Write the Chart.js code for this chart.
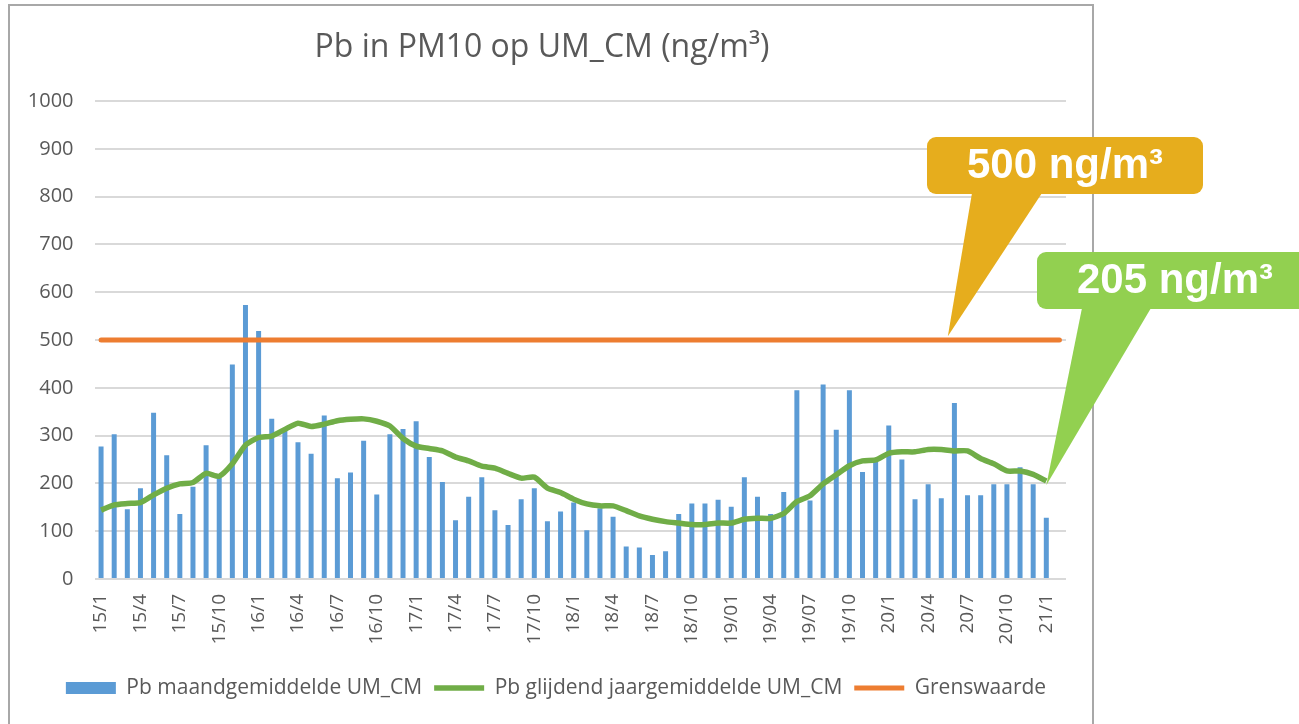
<!DOCTYPE html>
<html>
<head>
<meta charset="utf-8">
<title>Pb in PM10 op UM_CM</title>
<script src="https://cdn.jsdelivr.net/npm/chart.js@4.4.1/dist/chart.umd.min.js"></script>
<style>
  html, body { margin: 0; padding: 0; background: #fff; }
  .wrap { position: relative; width: 1299px; height: 724px; overflow: hidden; }
  .frame { position: absolute; left: 8px; top: 4px; width: 1082px; height: 800px; border: 2px solid #a8a8a8; }
  #chart { position: absolute; left: 0; top: 0; }
</style>
</head>
<body>
<div class="wrap">
  <div class="frame"></div>
  <canvas id="chart" width="1299" height="724"></canvas>
</div>
<script>
// months jan 2015 .. feb 2021 (last month has no measurement yet)
const months = [
  '15/1','15/2','15/3','15/4','15/5','15/6','15/7','15/8','15/9','15/10','15/11','15/12',
  '16/1','16/2','16/3','16/4','16/5','16/6','16/7','16/8','16/9','16/10','16/11','16/12',
  '17/1','17/2','17/3','17/4','17/5','17/6','17/7','17/8','17/9','17/10','17/11','17/12',
  '18/1','18/2','18/3','18/4','18/5','18/6','18/7','18/8','18/9','18/10','18/11','18/12',
  '19/01','19/02','19/03','19/04','19/05','19/06','19/07','19/08','19/09','19/10','19/11','19/12',
  '20/1','20/2','20/3','20/4','20/5','20/6','20/7','20/8','20/9','20/10','20/11','20/12',
  '21/1','21/2'
];

const maandgemiddelde = [
  277, 303, 146, 190, 348, 259, 136, 193, 280, 213, 449, 573,
  519, 335, 310, 286, 262, 342, 211, 223, 289, 177, 303, 314,
  330, 255, 203, 123, 172, 213, 144, 113, 167, 190, 121, 141,
  160, 102, 148, 130, 68, 66, 50, 58, 136, 158, 158, 166,
  151, 213, 172, 136, 182, 395, 164, 407, 312, 395, 224, 245,
  321, 250, 167, 198, 169, 368, 175, 175, 198, 198, 234, 198,
  128
];

const jaargemiddelde = [
  144, 155, 158, 160, 176, 190, 199, 202, 221, 215, 241, 280,
  296, 299, 313, 326, 319, 324, 331, 334, 335, 330, 320, 294,
  278, 273, 268, 255, 247, 236, 232, 221, 211, 213, 190, 181,
  167, 157, 153, 153, 143, 132, 125, 120, 117, 114, 114, 117,
  117, 125, 127, 127, 137, 162, 174, 199, 218, 237, 247, 249,
  263, 266, 266, 271, 271, 268, 268, 252, 241, 226, 226, 219,
  205
];

const grenswaarde = [
  500, 500, 500, 500, 500, 500, 500, 500, 500, 500, 500, 500,
  500, 500, 500, 500, 500, 500, 500, 500, 500, 500, 500, 500,
  500, 500, 500, 500, 500, 500, 500, 500, 500, 500, 500, 500,
  500, 500, 500, 500, 500, 500, 500, 500, 500, 500, 500, 500,
  500, 500, 500, 500, 500, 500, 500, 500, 500, 500, 500, 500,
  500, 500, 500, 500, 500, 500, 500, 500, 500, 500, 500, 500,
  500, 500
];

const yTicks = [0, 100, 200, 300, 400, 500, 600, 700, 800, 900, 1000];

// speech bubbles: the tip points at a spot on the chart (category index, value)
const callouts = [
  { text: '500 ng/m³', color: '#E6AD1D', at: 64.5, value: 508,
    box: { x: 927, y: 137, w: 276, h: 57 }, base: [972, 1042] },
  { text: '205 ng/m³', color: '#92D050', at: 72, value: 196,
    box: { x: 1037, y: 252, w: 276, h: 57 }, base: [1082, 1151] }
];

function roundedBox(ctx, x, y, w, h, r) {
  ctx.beginPath();
  ctx.moveTo(x + r, y);
  ctx.arcTo(x + w, y, x + w, y + h, r);
  ctx.arcTo(x + w, y + h, x, y + h, r);
  ctx.arcTo(x, y + h, x, y, r);
  ctx.arcTo(x, y, x + w, y, r);
  ctx.closePath();
}

const calloutPlugin = {
  id: 'callouts',
  afterLayout(chart) {
    // excel centres the legend a bit more to the right than the title
    chart.legend.left += 14;
    chart.legend.right += 14;
  },
  afterDraw(chart) {
    const ctx = chart.ctx;
    const xs = chart.scales.x;
    const ys = chart.scales.y;
    callouts.forEach(c => {
      const tipX = xs.getPixelForValue(c.at);
      const tipY = ys.getPixelForValue(c.value);
      const b = c.box;
      ctx.save();
      ctx.fillStyle = c.color;
      roundedBox(ctx, b.x, b.y, b.w, b.h, 9);
      ctx.fill();
      ctx.beginPath();
      ctx.moveTo(c.base[0], b.y + b.h - 1);
      ctx.lineTo(tipX, tipY);
      ctx.lineTo(c.base[1], b.y + b.h - 1);
      ctx.closePath();
      ctx.fill();
      ctx.fillStyle = '#ffffff';
      ctx.font = 'bold 42px "Liberation Sans", Arial, sans-serif';
      ctx.textAlign = 'center';
      ctx.textBaseline = 'middle';
      ctx.fillText(c.text, b.x + b.w / 2, b.y + b.h / 2 + 1);
      ctx.restore();
    });
  }
};

const textColor = '#595959';
const font = '"Open Sans", sans-serif';

new Chart(document.getElementById('chart'), {
  type: 'bar',
  data: {
    labels: months,
    datasets: [
      {
        label: 'Pb maandgemiddelde UM_CM',
        data: maandgemiddelde,
        backgroundColor: '#5B9BD5',
        barPercentage: 0.38,
        categoryPercentage: 1,
        pointStyle: 'rect',
        order: 2
      },
      {
        type: 'line',
        label: 'Pb glijdend jaargemiddelde UM_CM',
        data: jaargemiddelde,
        borderColor: '#70AD47',
        backgroundColor: '#70AD47',
        borderWidth: 5.5,
        borderJoinStyle: 'round',
        tension: 0.2,
        pointRadius: 0,
        pointHoverRadius: 0,
        pointStyle: 'line',
        order: 1
      },
      {
        type: 'line',
        label: 'Grenswaarde',
        data: grenswaarde,
        borderColor: '#ED7D31',
        backgroundColor: '#ED7D31',
        borderWidth: 5,
        borderCapStyle: 'round',
        pointRadius: 0,
        pointHoverRadius: 0,
        pointStyle: 'line',
        order: 1
      }
    ]
  },
  options: {
    responsive: false,
    animation: false,
    devicePixelRatio: 1,
    layout: { padding: { left: 18, right: 233, top: 0, bottom: 15.5 } },
    scales: {
      x: {
        grid: { display: false, drawTicks: false },
        border: { display: false },
        ticks: {
          autoSkip: false,
          minRotation: 90,
          maxRotation: 90,
          padding: 15,
          color: textColor,
          font: { family: font, size: 19 },
          callback: function(value, index) {
            return index % 3 === 0 ? this.getLabelForValue(value) : '';
          }
        },
        afterFit(scale) { scale.height = 86.5; }
      },
      y: {
        min: 0,
        max: 1000,
        afterBuildTicks(scale) { scale.ticks = yTicks.map(v => ({ value: v })); },
        grid: { color: '#d9d9d9', lineWidth: 2, drawTicks: false },
        border: { display: false },
        ticks: {
          padding: 21,
          color: textColor,
          font: { family: font, size: 20 },
          callback: (value) => String(value)
        },
        afterFit(scale) { scale.width = 76.5; }
      }
    },
    plugins: {
      title: {
        display: true,
        text: 'Pb in PM10 op UM_CM (ng/m³)',
        color: textColor,
        font: { family: font, size: 32, weight: 'normal' },
        padding: { top: 29, bottom: 33.6 }
      },
      legend: {
        position: 'bottom',
        labels: {
          color: textColor,
          font: { family: font, size: 21 },
          usePointStyle: true,
          pointStyleWidth: 50,
          boxHeight: 12,
          padding: 12,
          sort: (a, b) => a.datasetIndex - b.datasetIndex
        }
      },
      tooltip: { enabled: false }
    }
  },
  plugins: [calloutPlugin]
});
</script>
</body>
</html>
